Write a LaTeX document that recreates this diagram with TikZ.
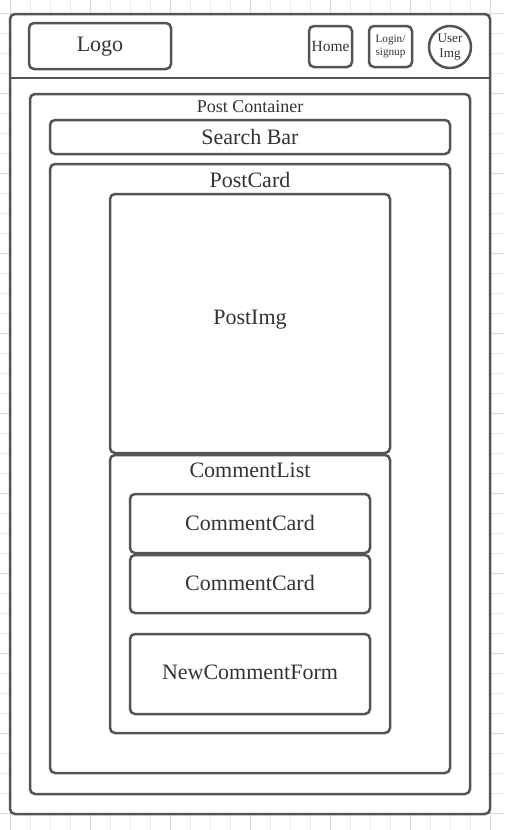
\documentclass[tikz,border=0pt]{standalone}
\usepackage{fontspec}
\setmainfont{Liberation Serif}
\begin{document}
\begin{tikzpicture}[x=1pt,y=-1pt,
  line col/.style={draw=black!67},
  box/.style={line col, line width=2.5pt, rounded corners=5pt, fill=white, inner sep=0pt},
  boxat/.style n args={4}{box, minimum width={#3-#1}, minimum height={#4-#2}},
  txt/.style={text=black!80, inner sep=0pt, font=\fontsize{22}{24}\selectfont},
  smalltxt/.style={text=black!80, inner sep=0pt, font=\fontsize{18}{20}\selectfont},
  gridminor/.style={draw=black!8, line width=0.8pt},
  gridmajor/.style={draw=black!14, line width=0.8pt}]
  \useasboundingbox (0,0) rectangle (504,830);
  \fill[white] (0,0) rectangle (504,830);
  % background grid
  \foreach \gx in {10,30,...,500} \draw[gridminor] (\gx,0) -- (\gx,830);
  \foreach \gy in {13,33,...,830} \draw[gridminor] (0,\gy) -- (504,\gy);
  \foreach \gx in {10,90,...,500} \draw[gridmajor] (\gx,0) -- (\gx,830);
  \foreach \gy in {13,93,...,830} \draw[gridmajor] (0,\gy) -- (504,\gy);

  % page frame with header band
  \node[boxat={10}{14}{490}{814}] (frame) at (250,414) {};
  \coordinate (hdl) at (10,78);
  \coordinate (hdr) at (490,78);
  \draw[line col, line width=2.5pt] (hdl) -- (hdr);

  % header items
  \node[boxat={29}{23}{171}{69}] (logo) at (100,46) {};
  \node[txt] (logotxt) at (100,46.5) {Logo};
  \node[boxat={309}{26}{352}{67}] (home) at (330.5,46.5) {};
  \node[txt, font=\fontsize{15.5}{17}\selectfont] (hometxt) at (home.center) {Home};
  \node[boxat={369}{26}{412}{67}] (login) at (390.5,46.5) {};
  \node[txt, font=\fontsize{11.2}{12.5}\selectfont, align=center] (logintxt) at (login.center) {Login/\\signup};
  \node[circle, line col, line width=2.5pt, fill=white, minimum size=42pt, inner sep=0pt] (user) at (450,47) {};
  \node[txt, font=\fontsize{13.2}{15.5}\selectfont, align=center] (usertxt) at (user.center) {User\\Img};

  % post container
  \node[boxat={30}{94}{470}{794}] (postc) at (250,444) {};
  \node[smalltxt] (postctxt) at (250,107) {Post Container};
  \node[boxat={50}{120}{450}{154}] (search) at (250,137) {};
  \node[txt] (searchtxt) at (search.center) {Search Bar};

  % post card
  \node[boxat={50}{164}{450}{773}] (card) at (250,468.5) {};
  \node[txt] (cardtxt) at (250,180) {PostCard};
  \node[boxat={110}{194}{390}{453}] (img) at (250,323.5) {};
  \node[txt] (imgtxt) at (250,320) {PostImg};

  % comments
  \node[boxat={110}{455}{390}{733}] (clist) at (250,594) {};
  \node[txt] (clisttxt) at (250,470) {CommentList};
  \node[boxat={130}{494}{370}{553}] (cc1) at (250,523.5) {};
  \node[txt] (cc1txt) at (250,523) {CommentCard};
  \node[boxat={130}{555}{370}{613}] (cc2) at (250,584) {};
  \node[txt] (cc2txt) at (250,583) {CommentCard};
  \node[boxat={130}{634}{370}{714}] (form) at (250,674) {};
  \node[txt] (formtxt) at (250,672) {NewCommentForm};
\end{tikzpicture}
\end{document}
